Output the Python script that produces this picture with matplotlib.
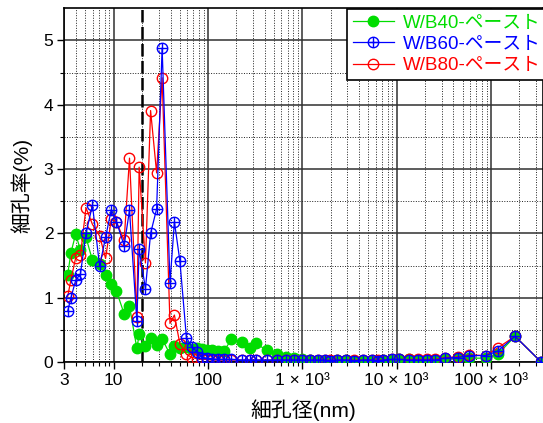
import numpy as np
import matplotlib
matplotlib.use("Agg")
import matplotlib.pyplot as plt
from matplotlib.path import Path
from matplotlib.ticker import FixedLocator, NullFormatter

plt.rcParams['font.family'] = ['Liberation Sans', 'Noto Sans CJK JP']

# 細孔径 (nm)
pore_size = [3.25, 3.52, 3.95, 4.44, 5.08, 5.95, 7.09, 8.2, 9.42, 10.7,
             12.9, 14.7, 17.6, 18.6, 21.7, 24.6, 28.5, 32.6, 39.5, 44.0,
             50.3, 59.0, 67.5, 77.1, 86.1, 97.3, 110, 127, 147, 177,
             228, 276, 323, 419, 538, 671, 817, 984, 1205, 1477,
             1742, 1966, 2350, 2909, 3540, 4378, 5455, 6411, 7245, 8900,
             10700, 13600, 17000, 20800, 25500, 32500, 44300, 59000, 88000, 118000,
             180000, 340000]

# 細孔率 (%)
wb40 = [1.36, 1.70, 1.99, 1.74, 1.94, 1.58, 1.53, 1.36, 1.21, 1.10,
        0.75, 0.87, 0.21, 0.43, 0.25, 0.37, 0.27, 0.36, 0.12, 0.25,
        0.22, 0.23, 0.20, 0.21, 0.20, 0.19, 0.19, 0.17, 0.17, 0.35,
        0.31, 0.21, 0.29, 0.18, 0.13, 0.08, 0.06, 0.04, 0.03, 0.02,
        0.02, 0.02, 0.03, 0.03, 0.02, 0.02, 0.02, 0.02, 0.03, 0.03,
        0.05, 0.05, 0.03, 0.03, 0.03, 0.04, 0.06, 0.06, 0.06, 0.12,
        0.40, 0.00]
wb60 = [0.79, 1.00, 1.27, 1.37, 2.00, 2.44, 1.49, 1.94, 2.37, 2.18,
        1.81, 2.36, 0.63, 1.75, 1.14, 2.00, 2.38, 4.88, 1.23, 2.18,
        1.57, 0.38, 0.23, 0.16, 0.07, 0.06, 0.05, 0.04, 0.04, 0.04,
        0.03, 0.03, 0.03, 0.03, 0.03, 0.03, 0.03, 0.03, 0.03, 0.03,
        0.03, 0.02, 0.03, 0.03, 0.02, 0.03, 0.03, 0.02, 0.03, 0.04,
        0.04, 0.03, 0.03, 0.03, 0.03, 0.06, 0.07, 0.10, 0.10, 0.17,
        0.40, 0.00]
wb80 = [1.02, 1.28, 1.62, 1.66, 2.40, 2.14, 1.96, 1.61, 2.22, 2.18,
        1.89, 3.17, 0.70, 3.03, 1.54, 3.91, 2.94, 4.42, 0.60, 0.73,
        0.28, 0.12, 0.07, 0.05, 0.04, 0.04, 0.03, 0.03, 0.03, 0.03,
        0.03, 0.03, 0.03, 0.03, 0.03, 0.03, 0.03, 0.03, 0.03, 0.03,
        0.03, 0.03, 0.03, 0.03, 0.03, 0.03, 0.03, 0.03, 0.03, 0.04,
        0.04, 0.04, 0.04, 0.04, 0.04, 0.07, 0.08, 0.11, 0.10, 0.22,
        0.40, 0.00]

labels = ["W/B40-ペースト", "W/B60-ペースト", "W/B80-ペースト"]
x_ticks = [3, 10, 100, 1e3, 1e4, 1e5]
x_tick_labels = ["3", "10", "100", "1 × 10³", "10 × 10³", "100 × 10³"]

green = "#00dd00"
blue = "#0000ff"
red = "#ff0000"

# 丸にプラスのマーカー
cross = Path([(-1, 0), (1, 0), (0, -1), (0, 1)],
             [Path.MOVETO, Path.LINETO, Path.MOVETO, Path.LINETO])
oplus = Path.make_compound_path(Path.unit_circle(), cross)

fig = plt.figure(figsize=(5.43, 4.23), dpi=100)
ax = fig.add_axes([0.1186, 0.1442, 0.8814, 0.8362])

l40, = ax.plot(pore_size, wb40, color=green, lw=0.9, marker="o", ms=7.5,
               mfc=green, mec=green, zorder=3, label=labels[0])
l80, = ax.plot(pore_size, wb80, color=red, lw=0.9, marker="o", ms=7.5,
               mfc="none", mec=red, mew=1.0, zorder=4, label=labels[2])
l60, = ax.plot(pore_size, wb60, color=blue, lw=0.9, marker=oplus, ms=7.5,
               mfc="none", mec=blue, mew=1.0, zorder=5, label=labels[1])

# 20nm の破線
ax.axvline(20, color="black", lw=1.8, ls=(0, (5, 1.8)), zorder=2.5)

ax.set_xscale("log")
ax.set_xlim(3, 3.56e5)
ax.set_ylim(0, 5.5)

ax.xaxis.set_major_locator(FixedLocator(x_ticks))
ax.set_xticklabels(x_tick_labels)
minor_x = [m * 10 ** d for d in range(0, 6) for m in range(2, 10)]
minor_x = [v for v in minor_x if 3 < v < 3.56e5]
ax.xaxis.set_minor_locator(FixedLocator(minor_x))
ax.xaxis.set_minor_formatter(NullFormatter())
ax.set_yticks([0, 1, 2, 3, 4, 5])
ax.set_yticks(np.arange(0.5, 5.5, 1.0), minor=True)

ax.grid(which="major", color="#303030", lw=1.1, ls="-")
ax.grid(which="minor", color="#202020", lw=0.7, ls=(0, (1, 1.6)))
ax.set_axisbelow(True)

ax.tick_params(which="major", direction="out", length=5, width=1,
               labelsize=12.5, pad=3)
ax.tick_params(which="minor", direction="out", length=3, width=0.8)
for s in ax.spines.values():
    s.set_color("black")
    s.set_linewidth(1.2)

ax.set_xlabel("細孔径(nm)", fontsize=15, labelpad=8)
ax.set_ylabel("細孔率(%)", fontsize=15, labelpad=8)

leg = fig.legend(handles=[l40, l60, l80], loc="upper left",
                 bbox_to_anchor=(347 / 543, 1 - 9 / 423),
                 fontsize=13.5, frameon=True, fancybox=False,
                 edgecolor="black", framealpha=1, handlelength=2.2,
                 handletextpad=0.5, labelspacing=0.22, borderpad=0.3,
                 borderaxespad=0, labelcolor="linecolor")
leg.get_frame().set_linewidth(1.2)

fig.savefig("out.png", dpi=100)
